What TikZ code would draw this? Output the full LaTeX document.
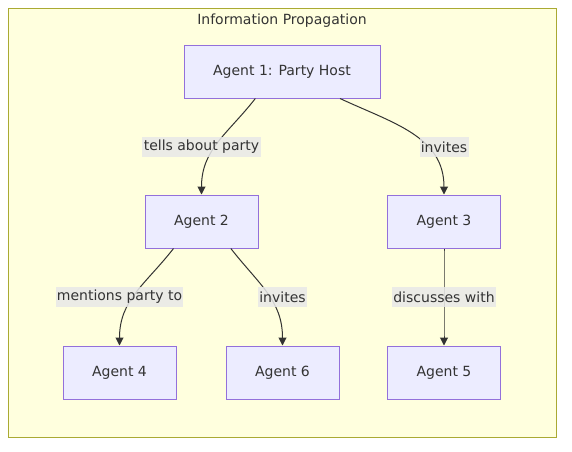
\documentclass[tikz,border=0pt]{standalone}
\usepackage{fontspec}
\setmainfont{DejaVu Sans}
\usetikzlibrary{arrows.meta}

\definecolor{clusterfill}{HTML}{FFFFDE}
\definecolor{clusterline}{HTML}{AAAA33}
\definecolor{agentfill}{HTML}{ECECFF}
\definecolor{agentline}{HTML}{9370DB}
\definecolor{labelfill}{HTML}{E8E8E8}
\definecolor{ink}{HTML}{333333}

\tikzset{
  agent/.style={draw=agentline, fill=agentfill, line width=0.75pt, minimum height=39.75pt, minimum width=84.75pt, inner sep=0pt, text=ink},
  lbl/.style={fill=labelfill, fill opacity=0.85, text opacity=1, text=ink, inner xsep=1pt, inner ysep=0pt, minimum height=15pt},
  edge/.style={draw=ink, line width=0.75pt, -{Triangle[length=6pt,width=6pt]}}
}

\begin{document}
\begin{tikzpicture}[x=0.75pt, y=0.75pt, font=\fontsize{10.5}{12.6}\selectfont]

    \useasboundingbox (0,0) rectangle (572,-451);

    % cluster
    \draw[fill=clusterfill, draw=clusterline, line width=0.75pt] (8,-8) rectangle (556,-437);
    \node[text=ink] (title) at (282,-20.5) {Information Propagation};

    % agents
    \node[agent, minimum width=147pt] (a1) at (282,-71.5) {Agent 1: Party Host};
    \node[agent] (a2) at (201.5,-221.5) {Agent 2};
    \node[agent] (a3) at (444,-221.5) {Agent 3};
    \node[agent] (a4) at (119.5,-372.5) {Agent 4};
    \node[agent] (a6) at (282.5,-372.5) {Agent 6};
    \node[agent] (a5) at (444,-372.5) {Agent 5};

    % edges
    \foreach \src/\dx/\ang/\dst in {a1/-20pt/-128/a2, a1/43.5pt/-25/a3, a2/-21pt/-128/a4, a2/22pt/-52/a6, a3/0pt/-90/a5}
      \draw[edge] ([xshift=\dx]\src.south) to[out=\ang,in=90,looseness=1.05] (\dst.north);

    % edge labels
    \foreach \x/\y/\txt in {201.5/147/tells about party, 444/147/invites, 119.5/297/mentions party to, 282.5/297/invites, 444/297/discusses with}
      \node[lbl] at (\x,-\y) {\txt};

\end{tikzpicture}
\end{document}
